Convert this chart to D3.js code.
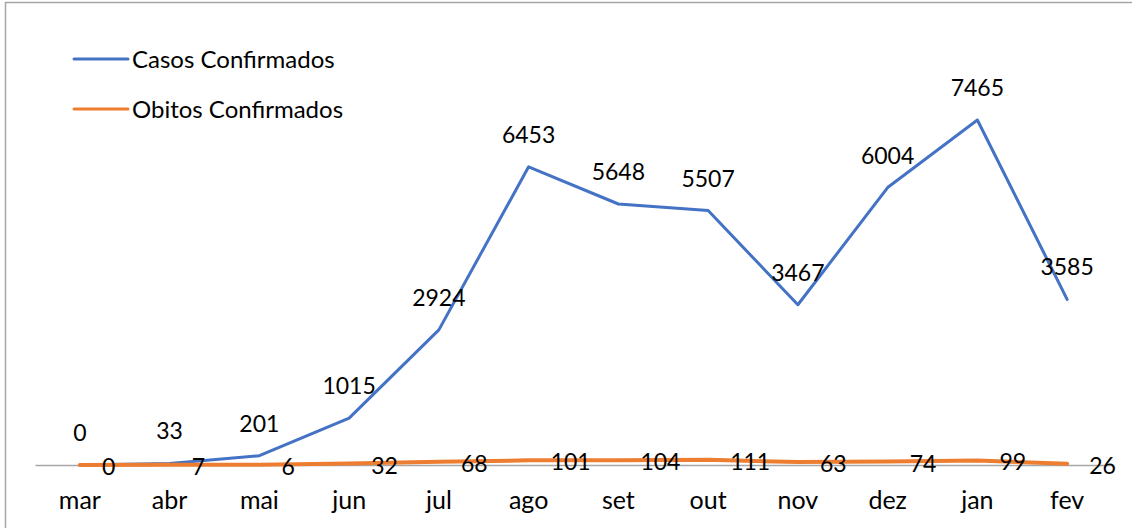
<!DOCTYPE html>
<html>
<head>
<meta charset="utf-8">
<script src="https://cdn.jsdelivr.net/npm/d3@7"></script>
<style>
  html, body { margin: 0; padding: 0; background: #fff; }
  svg text { font-family: Lato, "Open Sans", sans-serif; fill: #000; }
</style>
</head>
<body>
<svg id="chart" width="1132" height="528"></svg>
<script>
const months = ["mar","abr","mai","jun","jul","ago","set","out","nov","dez","jan","fev"];
const casos = [0, 33, 201, 1015, 2924, 6453, 5648, 5507, 3467, 6004, 7465, 3585];
const obitos = [0, 7, 6, 32, 68, 101, 104, 111, 63, 74, 99, 26];
const seriesNames = ["Casos Confirmados", "Obitos Confirmados"];
const colors = ["#4472C4", "#ED7D31"];

const svg = d3.select("#chart");
const W = 1132, H = 528;

// chart border (left and top visible)
svg.append("line").attr("x1", 5.5).attr("x2", 5.5).attr("y1", 2).attr("y2", H)
  .attr("stroke", "#a6a6a6").attr("stroke-width", 1.5);
svg.append("line").attr("x1", 5).attr("x2", W).attr("y1", 2.5).attr("y2", 2.5)
  .attr("stroke", "#a6a6a6").attr("stroke-width", 1.5);

const x = d3.scaleBand().domain(months).range([35, 1112]);
const cx = m => x(m) + x.bandwidth() / 2;
const y = d3.scaleLinear().domain([0, 8000]).range([465, 95.3]);

// category axis
const xAxis = d3.axisBottom(x).tickSize(0).tickPadding(0);
const gx = svg.append("g").attr("transform", `translate(0,${y(0)})`).call(xAxis);
gx.select(".domain").attr("stroke", "#a6a6a6").attr("stroke-width", 1.5);
gx.selectAll("text").attr("font-size", 25).attr("dy", null).attr("y", 44)
  .style("font-family", "Lato, 'Open Sans', sans-serif").attr("fill", "#000");

const line = d3.line().x((d, i) => cx(months[i])).y(d => y(d));

// Casos line
svg.append("path").datum(casos).attr("d", line)
  .attr("fill", "none").attr("stroke", colors[0]).attr("stroke-width", 3)
  .attr("stroke-linejoin", "round").attr("stroke-linecap", "round");

// Obitos line
svg.append("path").datum(obitos).attr("d", line)
  .attr("fill", "none").attr("stroke", colors[1]).attr("stroke-width", 4)
  .attr("stroke-linejoin", "round").attr("stroke-linecap", "round");

// Casos labels (above)
svg.append("g").selectAll("text").data(casos).join("text")
  .attr("x", (d, i) => cx(months[i]))
  .attr("y", d => y(d) - 24)
  .attr("text-anchor", "middle")
  .attr("font-size", 23)
  .text(d => d);

// Obitos labels (right)
svg.append("g").selectAll("text").data(obitos).join("text")
  .attr("x", (d, i) => cx(months[i]) + 22)
  .attr("y", d => y(d) + 10)
  .attr("text-anchor", "start")
  .attr("font-size", 23)
  .text(d => d);

// legend
const leg = svg.append("g");
seriesNames.forEach((name, i) => {
  const ly = 59 + i * 50;
  leg.append("line").attr("x1", 74).attr("x2", 128).attr("y1", ly).attr("y2", ly)
    .attr("stroke", colors[i]).attr("stroke-width", 3).attr("stroke-linecap", "round");
  leg.append("text").attr("x", 132).attr("y", ly + 8.5).attr("font-size", 24).text(name);
});
</script>
</body>
</html>
